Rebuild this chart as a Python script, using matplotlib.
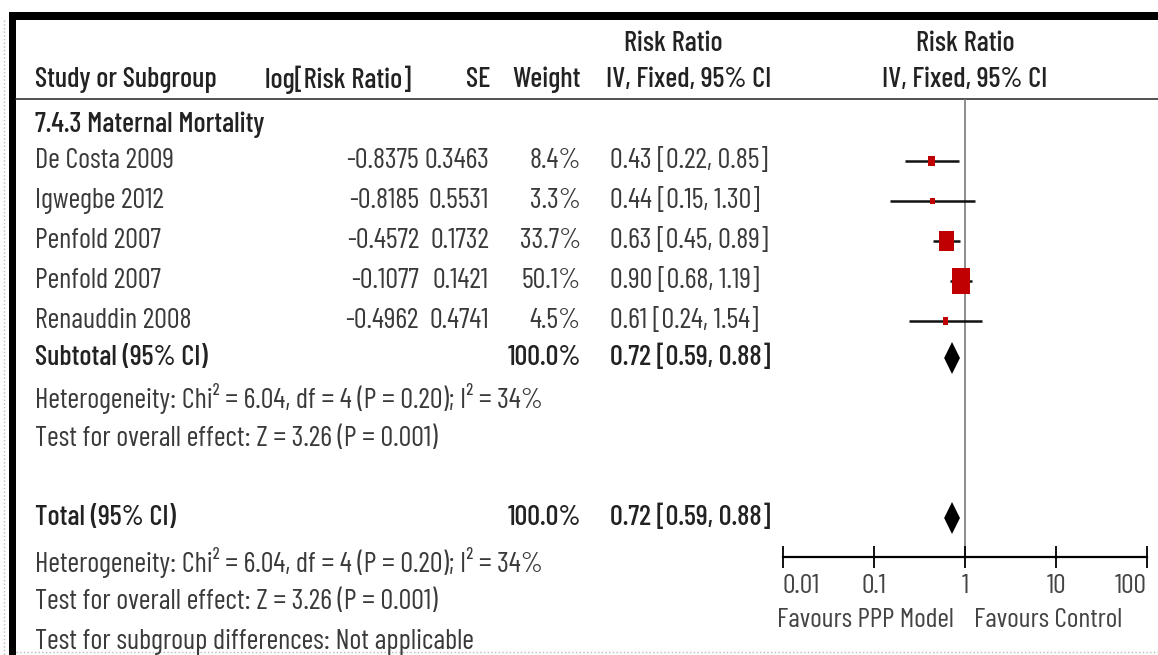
import numpy as np
import matplotlib
matplotlib.use("Agg")
from matplotlib import pyplot as plt
from matplotlib.patches import Rectangle
from matplotlib.path import Path
from matplotlib.ticker import NullLocator

# study level data
studies = ["De Costa 2009", "Igwegbe 2012", "Penfold 2007", "Penfold 2007", "Renauddin 2008"]
log_rr = [-0.8375, -0.8185, -0.4572, -0.1077, -0.4962]
se = [0.3463, 0.5531, 0.1732, 0.1421, 0.4741]
weight = [8.4, 3.3, 33.7, 50.1, 4.5]
rr = [0.43, 0.44, 0.63, 0.90, 0.61]
ci_low = [0.22, 0.15, 0.45, 0.68, 0.24]
ci_high = [0.85, 1.30, 0.89, 1.19, 1.54]

# pooled estimate (subtotal and total are the same here)
pooled = [0.72, 0.59, 0.88]
pooled_weight = 100.0
subgroup = "7.4.3 Maternal Mortality"
het_text = "Heterogeneity: Chi² = 6.04, df = 4 (P = 0.20); I² = 34%"
effect_text = "Test for overall effect: Z = 3.26 (P = 0.001)"
diff_text = "Test for subgroup differences: Not applicable"
ticks = [0.01, 0.1, 1, 10, 100]
tick_labels = ["0.01", "0.1", "1", "10", "100"]
favours = ["Favours PPP Model", "Favours Control"]

plt.rcParams['font.family'] = ['Barlow Condensed', 'DejaVu Sans']

W, H = 1158, 655
fig = plt.figure(figsize=(W / 100, H / 100), dpi=100)
bg = fig.add_axes([0, 0, 1, 1])
bg.set_xlim(0, W)
bg.set_ylim(H, 0)
bg.axis("off")

# frame
bg.add_patch(Rectangle((9, 12), W - 9, 8, color="black", lw=0))
bg.add_patch(Rectangle((9, 12), 7, H - 12, color="black", lw=0))
bg.plot([16, W], [99, 99], color="#333333", lw=1.2)
bg.plot([16, W], [652, 652], color="#bbbbbb", lw=1, ls=":")
bg.plot([4, 4], [20, H], color="#bbbbbb", lw=1, ls=":")

fs = 20.5
tc = "#222222"
lc = "#3a3a3a"


def txt(x, y, s, ha="left", bold=False):
    bg.text(x, y, s, ha=ha, va="center", fontsize=fs,
            fontweight="medium" if bold else "normal", color=tc if bold else lc)


# header
txt(673, 44, "Risk Ratio", ha="center", bold=True)
txt(965, 44, "Risk Ratio", ha="center", bold=True)
txt(35, 80, "Study or Subgroup", bold=True)
txt(265, 80, "log[Risk Ratio]", bold=True)
txt(490, 80, "SE", ha="right", bold=True)
txt(581, 80, "Weight", ha="right", bold=True)
txt(606, 80, "IV, Fixed, 95% CI", bold=True)
txt(965, 80, "IV, Fixed, 95% CI", ha="center", bold=True)

txt(35, 125, subgroup, bold=True)

row0, row_h = 161, 40
study_y = [row0 + row_h * i for i in range(len(studies))]
for i, y in enumerate(study_y):
    txt(35, y, studies[i])
    txt(419, y, f"{log_rr[i]:.4f}", ha="right")
    txt(489, y, f"{se[i]:.4f}", ha="right")
    txt(581, y, f"{weight[i]:.1f}%", ha="right")
    txt(610, y, f"{rr[i]:.2f} [{ci_low[i]:.2f}, {ci_high[i]:.2f}]")

sub_y = study_y[-1] + 37
tot_y = 518
pooled_str = f"{pooled[0]:.2f} [{pooled[1]:.2f}, {pooled[2]:.2f}]"
for y, label in [(sub_y, "Subtotal (95% CI)"), (tot_y, "Total (95% CI)")]:
    txt(35, y, label, bold=True)
    txt(581, y, f"{pooled_weight:.1f}%", ha="right", bold=True)
    txt(610, y, pooled_str, bold=True)

txt(35, 399, het_text)
txt(35, 439, effect_text)
txt(35, 562, het_text)
txt(35, 602, effect_text)
txt(35, 642, diff_text)

# forest panel, y in the same pixel units as the table
x0, x1, y_top, y_axis = 783, 1147, 99, 557
fa = fig.add_axes([x0 / W, 1 - y_axis / H, (x1 - x0) / W, (y_axis - y_top) / H])
fa.patch.set_alpha(0)
fa.set_xscale("log")
fa.set_xlim(0.01, 100)
fa.set_ylim(y_axis, y_top)
for s in ["top", "left", "right"]:
    fa.spines[s].set_visible(False)
fa.spines["bottom"].set_linewidth(1.6)
fa.set_yticks([])
fa.xaxis.set_minor_locator(NullLocator())
fa.set_xticks(ticks, labels=tick_labels)
fa.tick_params(axis="x", direction="inout", length=16, width=1.3, pad=4,
               labelsize=20, labelcolor="#444444")
lbls = fa.get_xticklabels()
lbls[0].set_ha("left")
lbls[-1].set_ha("right")

fa.axvline(1, color="#7a7a7a", lw=1.2, zorder=1)
fa.hlines(study_y, ci_low, ci_high, color="#111111", lw=1.8, zorder=2)

# boxes sized by weight, slightly taller than wide
box = Path([(-0.36, -0.5), (0.36, -0.5), (0.36, 0.5), (-0.36, 0.5), (-0.36, -0.5)],
           [Path.MOVETO, Path.LINETO, Path.LINETO, Path.LINETO, Path.CLOSEPOLY])
sizes = (2.55 * np.sqrt(weight)) ** 2
fa.scatter(rr, study_y, s=sizes, marker=box, color="#c00000", lw=0, zorder=3)

half_h = 16
for y in [sub_y, tot_y]:
    fa.fill([pooled[1], pooled[0], pooled[2], pooled[0]],
            [y, y - half_h, y, y + half_h], color="black", lw=0, zorder=3)

fa.annotate(favours[0], xy=(1, 620), xytext=(-11, 0), textcoords="offset pixels",
            ha="right", va="center", fontsize=20, color="#444444", annotation_clip=False)
fa.annotate(favours[1], xy=(1, 620), xytext=(9, 0), textcoords="offset pixels",
            ha="left", va="center", fontsize=20, color="#444444", annotation_clip=False)

fig.savefig("out.png", dpi=100)
